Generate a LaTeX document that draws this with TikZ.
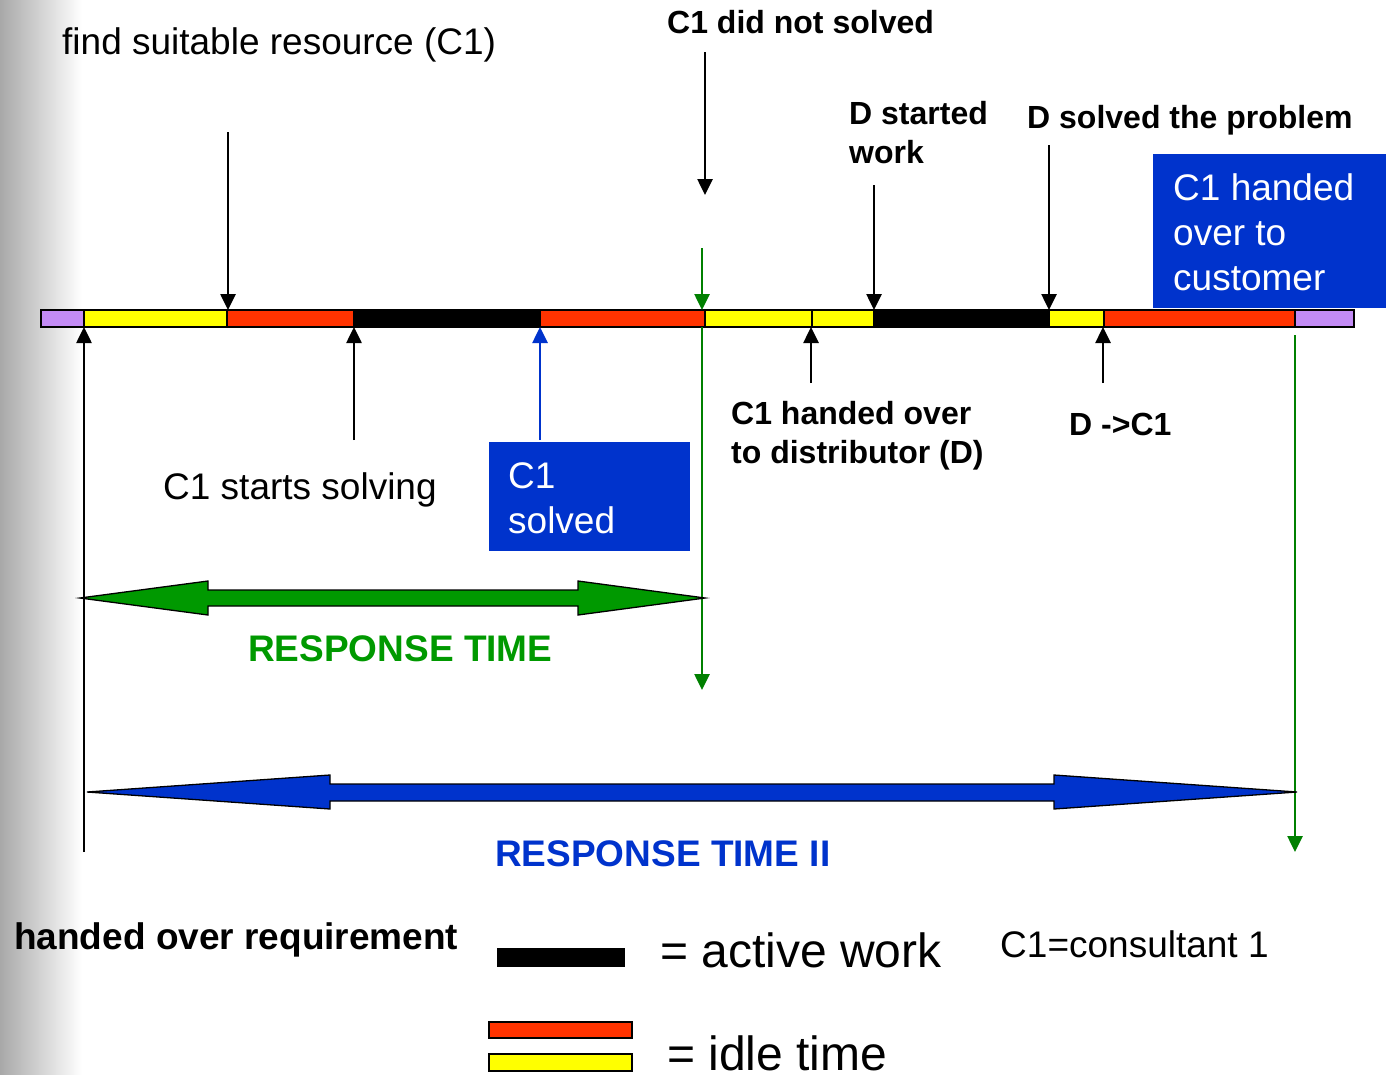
\documentclass[tikz,border=0pt]{standalone}
\usepackage{fontspec}
\setmainfont{Liberation Sans}
\usetikzlibrary{arrows.meta}
\definecolor{purp}{HTML}{C38BF5}
\definecolor{yel}{HTML}{FFFF00}
\definecolor{redd}{HTML}{FF3300}
\definecolor{boxblue}{HTML}{0033CC}
\definecolor{grn}{HTML}{009900}
\definecolor{grnline}{HTML}{008000}
\begin{document}
\begin{tikzpicture}[x=1pt,y=-1pt,
  seg/.style={draw=black,line width=1.3pt},
  arr/.style={line width=2.6pt,-{Triangle[length=16pt,width=15pt]}},
  reg/.style={font=\fontsize{37}{45}\selectfont, inner sep=0pt, anchor=base west},
  big/.style={font=\fontsize{48}{56}\selectfont, inner sep=0pt, anchor=base west},
  bld/.style={font=\fontsize{32}{39}\selectfont\bfseries, inner sep=0pt, anchor=base west, align=left},
  ttl/.style={font=\fontsize{37}{45}\selectfont\bfseries, inner sep=0pt, anchor=base west},
  boxtxt/.style={font=\fontsize{37}{45}\selectfont, text=white, inner sep=0pt, anchor=base west, align=left},
  bbox/.style={fill=boxblue, inner sep=0pt, anchor=north west},
  dbl/.style={draw=black, line width=1.3pt, line join=miter},
]
\useasboundingbox (0,0) rectangle (1391,1074);
\shade[left color=black!34,right color=white] (0,0) rectangle (82,1074);

% timeline bar
\filldraw[seg,fill=purp] (41,310) rectangle (84,327);
\filldraw[seg,fill=yel]  (84,310) rectangle (227,327);
\filldraw[seg,fill=redd] (227,310) rectangle (354,327);
\filldraw[seg,fill=black] (354,310) rectangle (540,327);
\filldraw[seg,fill=redd] (540,310) rectangle (705,327);
\filldraw[seg,fill=yel]  (705,310) rectangle (812,327);
\filldraw[seg,fill=yel]  (812,310) rectangle (874,327);
\filldraw[seg,fill=black] (874,310) rectangle (1049,327);
\filldraw[seg,fill=yel]  (1049,310) rectangle (1104,327);
\filldraw[seg,fill=redd] (1104,310) rectangle (1295,327);
\filldraw[seg,fill=purp] (1295,310) rectangle (1354,327);
\draw[line width=2pt] (41,310) rectangle (1354,327);

% coordinates on the bar
\coordinate (t1) at (228,310);
\coordinate (t2) at (702,310);
\coordinate (t3) at (874,310);
\coordinate (t4) at (1049,310);
\coordinate (b0) at (84,327);
\coordinate (b1) at (354,327);
\coordinate (b2) at (540,327);
\coordinate (b3) at (811,327);
\coordinate (b4) at (1103,327);
\coordinate (g1) at (702,327);

% free ends
\coordinate (s1) at (228,132);
\coordinate (s2top) at (705,52);
\coordinate (s2) at (705,195);
\coordinate (s2g) at (702,248);
\coordinate (s3) at (874,185);
\coordinate (s4) at (1049,145);
\coordinate (u0) at (84,852);
\coordinate (u1) at (354,440);
\coordinate (u2) at (540,440);
\coordinate (u3) at (811,383);
\coordinate (u4) at (1103,383);
\coordinate (gend) at (702,690);
\coordinate (r1) at (1295,335);
\coordinate (r2) at (1295,852);

% texts
\node[reg] (find) at (62,54) {find suitable resource (C1)};
\node[bld] (notsolved) at (667,33) {C1 did not solved};
\node[bld] (dstarted) at (849,163) {D started\\work};
\node[bld] (dsolved) at (1027,128) {D solved the problem};
\node[bbox, minimum width=233pt, minimum height=154pt] (custbox) at (1153,154) {};
\node[boxtxt] (custtxt) at (1173,290) {C1 handed\\over to\\customer};
\node[bld] (handdist) at (731,463) {C1 handed over\\to distributor (D)};
\node[bld] (dc1) at (1069,435) {D ->C1};
\node[reg] (starts) at (163,499) {C1 starts solving};
\node[bbox, minimum width=201pt, minimum height=109pt] (solvedbox) at (489,442) {};
\node[boxtxt] (solvedtxt) at (508,533) {C1\\solved};
\node[ttl, text=grn] (rt) at (248,661) {RESPONSE TIME};
\node[ttl, text=boxblue] (rt2) at (495,866) {RESPONSE TIME II};
\node[ttl] (req) at (14,949) {handed over requirement};
\node[big] (active) at (660,967) {= active work};
\node[reg] (cons) at (1000,957) {C1=consultant 1};
\node[big] (idle) at (667,1070) {= idle time};

% legend bars
\fill[black] (497,948) rectangle (625,967);
\filldraw[seg,fill=redd] (489,1022) rectangle (632,1038);
\filldraw[seg,fill=yel] (489,1054) rectangle (632,1071);

% arrows
\draw[arr] (s1) -- (t1);
\draw[arr] (s2top) -- (s2);
\draw[arr,grnline] (s2g) -- (t2);
\draw[arr] (s3) -- (t3);
\draw[arr] (s4) -- (t4);
\draw[arr] (u0) -- (b0);
\draw[arr] (u1) -- (b1);
\draw[arr,boxblue] (u2) -- (b2);
\draw[arr] (u3) -- (b3);
\draw[arr] (u4) -- (b4);
\draw[arr,grnline] (g1) -- (gend);
\draw[arr,grnline] (r1) -- (r2);

% double arrows
\filldraw[dbl,fill=grn] (80,598) -- (208,581) -- (208,590) -- (578,590) -- (578,581) -- (705,598)
  -- (578,615) -- (578,606) -- (208,606) -- (208,615) -- cycle;
\filldraw[dbl,fill=boxblue] (87,792) -- (330,775) -- (330,784) -- (1054,784) -- (1054,775) -- (1297,792)
  -- (1054,809) -- (1054,801) -- (330,801) -- (330,809) -- cycle;
\end{tikzpicture}
\end{document}
